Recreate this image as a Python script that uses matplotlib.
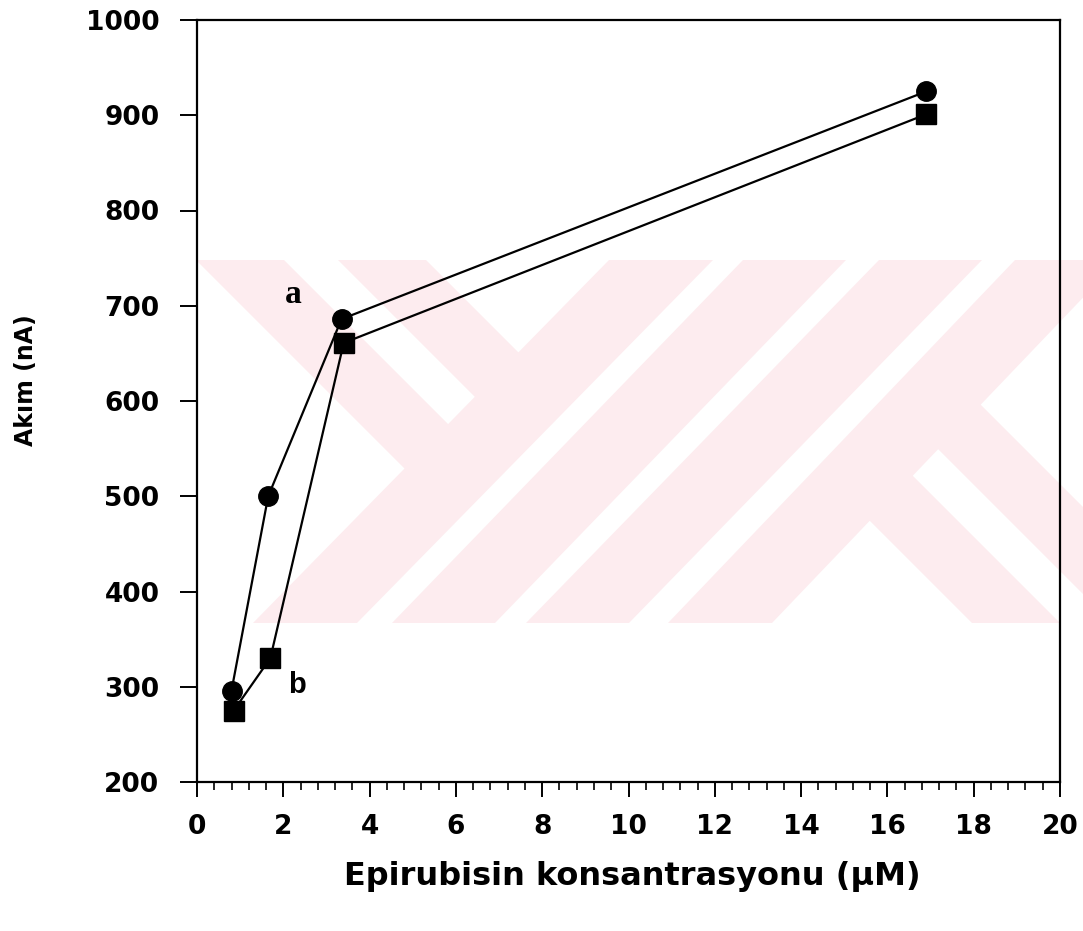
import matplotlib
matplotlib.use('Agg')
import matplotlib.pyplot as plt
from matplotlib.patches import Polygon, Rectangle
from matplotlib.ticker import MultipleLocator

# data
conc_a = [0.8, 1.65, 3.35, 16.9]
akim_a = [296, 500, 686, 925]
conc_b = [0.85, 1.7, 3.4, 16.9]
akim_b = [275, 330, 661, 901]

x_ticks = list(range(0, 21, 2))
y_ticks = list(range(200, 1001, 100))

W, H = 1083, 931
fig = plt.figure(figsize=(W / 100, H / 100), dpi=100)

# pale watermark behind the plot, drawn in pixel coordinates
bg = fig.add_axes([0, 0, 1, 1], zorder=0)
bg.set_xlim(0, W)
bg.set_ylim(H, 0)
bg.axis('off')
pink = '#fdecef'
clip = Rectangle((196, 260), W - 196, 363, transform=bg.transData)
top, bot = 260, 623
wm = []
for bl, tl, w in [(253, 609, 104), (392, 743, 103), (526, 879, 103), (668, 1015, 104)]:
    wm.append([(bl, bot), (bl + w, bot), (tl + w, top), (tl, top)])
wm.append([(196, 260), (284, 260), (494, 470), (406, 470)])
wm.append([(338, 260), (426, 260), (566, 400), (478, 400)])
wm.append([(868, 519), (910, 473), (1060, 623), (972, 623)])
wm.append([(935, 446), (978, 402), (1199, 623), (1112, 623)])
for pts in wm:
    p = Polygon(pts, closed=True, facecolor=pink, edgecolor='none')
    bg.add_patch(p)
    p.set_clip_path(clip)

ax = fig.add_axes([197 / W, (H - 782) / H, (1060 - 197) / W, (782 - 20) / H], zorder=1)
ax.patch.set_alpha(0)

ax.plot(conc_b, akim_b, '-', color='black', lw=1.6, marker='s', ms=14,
        mfc='black', mec='black')
ax.plot(conc_a, akim_a, '-', color='black', lw=1.6, marker='o', ms=14,
        mfc='black', mec='black')

ax.annotate('a', (conc_a[2], akim_a[2]), xytext=(-35, 18), textcoords='offset points',
            ha='center', va='center', fontsize=24, fontweight='bold', family='Liberation Serif')
ax.annotate('b', (conc_b[1], akim_b[1]), xytext=(19, -19), textcoords='offset points',
            ha='center', va='center', fontsize=21, fontweight='bold', family='Liberation Sans')

ax.set_xlim(0, 20)
ax.set_ylim(200, 1000)
ax.set_xticks(x_ticks)
ax.set_yticks(y_ticks)
ax.xaxis.set_minor_locator(MultipleLocator(0.4))
ax.tick_params(axis='x', which='major', direction='out', length=11, width=1.4, labelsize=19, pad=12)
ax.tick_params(axis='x', which='minor', direction='out', length=6, width=1.2)
ax.tick_params(axis='y', which='major', direction='out', length=12, width=1.4, labelsize=19, pad=15)
for lab in ax.get_xticklabels() + ax.get_yticklabels():
    lab.set_fontweight('bold')
for s in ax.spines.values():
    s.set_linewidth(1.6)

ax.set_xlabel('Epirubisin konsantrasyonu (μM)', fontsize=23, fontweight='bold', va='center')
ax.xaxis.set_label_coords(0.504, (782 - 877) / 762)
ax.set_ylabel('Akım (nA)', fontsize=17, fontweight='bold', va='center')
ax.yaxis.set_label_coords((26 - 197) / 863, (782 - 380) / 762)

fig.savefig('out.png', dpi=100)
